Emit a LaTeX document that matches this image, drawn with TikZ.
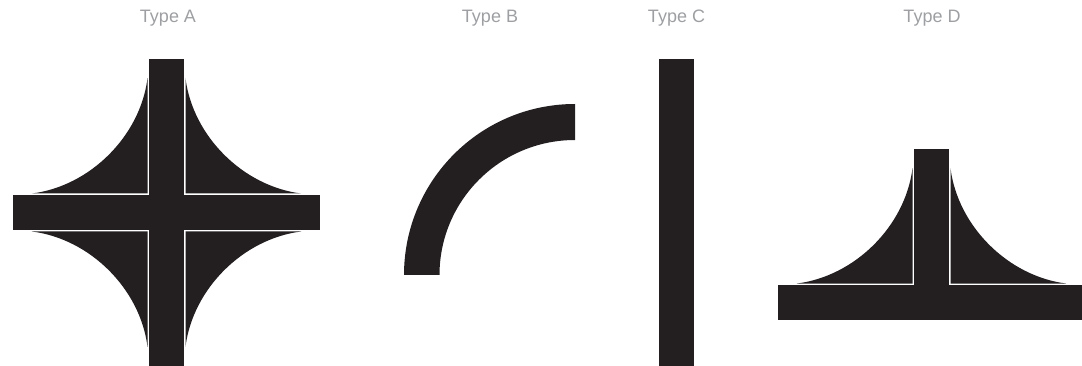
\documentclass[tikz,border=0pt]{standalone}
\usepackage{fontspec}
\setmainfont{Liberation Sans}
\usepackage{xcolor}
\definecolor{roadfill}{HTML}{231F20}
\definecolor{labeltext}{HTML}{9D9FA2}
\newcommand{\roadfillet}[3]{%
  \begin{scope}[shift={(#1)},xscale=#2,yscale=#3]
    \fill[road] (0,0) -- (0,-115.3) .. controls (-7.3,-57.3) and (-57.6,-7.3) .. (-115.6,0) -- cycle;
  \end{scope}}

\begin{document}
\begin{tikzpicture}[
  x=1pt, y=-1pt,
  typelabel/.style={font=\fontsize{18}{21}\selectfont, text=labeltext, inner sep=0pt, anchor=base},
  road/.style={fill=roadfill, draw=none},
]
  \useasboundingbox (0,0) rectangle (1082,366);
  \node[typelabel] (labela) at (168,22.5) {Type A};
  \node[typelabel] (labelb) at (490,22.5) {Type B};
  \node[typelabel] (labelc) at (676.5,22.5) {Type C};
  \node[typelabel] (labeld) at (932,22.5) {Type D};
  % type A
  \fill[road] (149,59) rectangle (184,366);
  \fill[road] (13,195) rectangle (320,230);
  \roadfillet{147.5,193.5}{1}{1}
  \roadfillet{185.5,193.5}{-1}{1}
  \roadfillet{147.5,231.5}{1}{-1}
  \roadfillet{185.5,231.5}{-1}{-1}
  % type B
  \fill[road] (404,275) arc[start angle=180, end angle=90, x radius=171, y radius=-171]
    -- (575,140) arc[start angle=90, end angle=180, x radius=135.5, y radius=-135] -- cycle;
  % type C
  \fill[road] (658.5,59) rectangle (694,366);
  % type D
  \fill[road] (914,149) rectangle (949,290);
  \fill[road] (778,285) rectangle (1082,320);
  \roadfillet{912.5,283.5}{1}{1}
  \roadfillet{950.5,283.5}{-1}{1}
\end{tikzpicture}
\end{document}
